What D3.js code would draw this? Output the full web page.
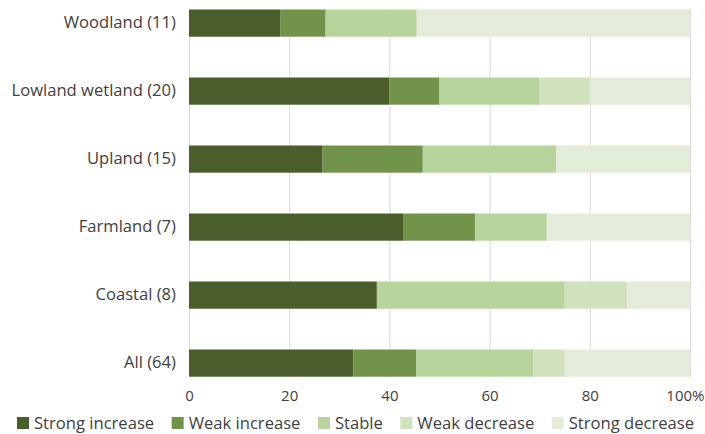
<!DOCTYPE html>
<html>
<head>
<meta charset="utf-8">
<script src="https://cdn.jsdelivr.net/npm/d3@7/dist/d3.min.js"></script>
<style>
  html, body { margin: 0; padding: 0; background: #fff; }
  svg { display: block; font-family: "Open Sans", "Noto Sans", sans-serif; }
</style>
</head>
<body>
<svg id="chart" width="705" height="434"></svg>
<script>
// Habitat groups with number of species in each
const categories = ["Woodland (11)", "Lowland wetland (20)", "Upland (15)", "Farmland (7)", "Coastal (8)", "All (64)"];

// Trend classes, from strongest increase to strongest decrease
const trendNames = ["Strong increase", "Weak increase", "Stable", "Weak decrease", "Strong decrease"];

// Species counts per trend class, one entry per habitat group
const strongIncrease = [2, 8, 4, 3, 3, 21];
const weakIncrease   = [1, 2, 3, 1, 0, 8];
const stable         = [2, 4, 4, 1, 3, 15];
const weakDecrease   = [0, 2, 0, 0, 1, 4];
const strongDecrease = [6, 4, 4, 2, 1, 16];

const tickValues = [0, 20, 40, 60, 80, 100];
const tickLabels = ["0", "20", "40", "60", "80", "100%"];

const colors = ["#4a5e2c", "#72934a", "#b6d49b", "#cfe1bd", "#e3ecd8"];

const seriesCounts = [strongIncrease, weakIncrease, stable, weakDecrease, strongDecrease];

// Build rows of percentage shares
const rows = categories.map((c, i) => {
  const total = d3.sum(seriesCounts, s => s[i]);
  const row = { category: c };
  trendNames.forEach((t, k) => { row[t] = seriesCounts[k][i] / total * 100; });
  return row;
});

const stacked = d3.stack().keys(trendNames)(rows);

const svg = d3.select("#chart");
const plotLeft = 189;
const plotRight = 690;
const textColor = "#404040";

const x = d3.scaleLinear().domain([0, 100]).range([plotLeft, plotRight]);
const y = d3.scaleBand().domain(categories).range([9.5, 376.7]).paddingInner(0.6).paddingOuter(0);

const color = d3.scaleOrdinal().domain(trendNames).range(colors);

// Vertical gridlines
svg.append("g")
  .selectAll("line")
  .data(tickValues)
  .join("line")
  .attr("x1", d => x(d) + 0.5)
  .attr("x2", d => x(d) + 0.5)
  .attr("y1", y.range()[0])
  .attr("y2", y.range()[1])
  .attr("stroke", "#d9d9d9")
  .attr("stroke-width", 1);

// Stacked bars
svg.append("g")
  .selectAll("g")
  .data(stacked)
  .join("g")
  .attr("fill", d => color(d.key))
  .selectAll("rect")
  .data(d => d)
  .join("rect")
  .attr("x", d => x(d[0]))
  .attr("width", d => x(d[1]) - x(d[0]))
  .attr("y", d => y(d.data.category))
  .attr("height", y.bandwidth());

// Category axis
const yAxis = svg.append("g")
  .attr("transform", `translate(${plotLeft},0)`)
  .call(d3.axisLeft(y).tickSize(0).tickPadding(13));
yAxis.select(".domain").remove();
yAxis.selectAll("text")
  .attr("font-size", 16.6)
  .attr("font-family", "Open Sans, Noto Sans, sans-serif")
  .attr("fill", textColor);

// Percentage axis
const xAxis = svg.append("g")
  .attr("transform", `translate(0,${y.range()[1]})`)
  .call(d3.axisBottom(x).tickValues(tickValues).tickFormat((d, i) => tickLabels[i]).tickSize(0).tickPadding(14));
xAxis.select(".domain").remove();
xAxis.selectAll("text")
  .attr("font-size", 15)
  .attr("font-family", "Open Sans, Noto Sans, sans-serif")
  .attr("fill", textColor);
// keep the last label inside the frame
xAxis.selectAll(".tick").filter(d => d === 100)
  .select("text").attr("text-anchor", "end").attr("x", 704 - plotRight);

// Legend: items laid out left to right, spread across the width
const legend = svg.append("g").attr("transform", "translate(0,423)");
const item = legend.selectAll("g")
  .data(trendNames)
  .join("g");
item.append("rect")
  .attr("x", 0).attr("y", -6)
  .attr("width", 12).attr("height", 12)
  .attr("fill", d => color(d));
item.append("text")
  .attr("x", 17).attr("y", 0)
  .attr("dy", "0.35em")
  .attr("font-size", 16.6)
  .attr("fill", textColor)
  .text(d => d);

const legendLeft = 17, legendRight = 694;
const widths = [];
item.select("text").each(function () { widths.push(17 + this.getComputedTextLength()); });
const gap = (legendRight - legendLeft - d3.sum(widths)) / (widths.length - 1);
let cursor = legendLeft;
item.attr("transform", (d, i) => {
  const t = `translate(${cursor},0)`;
  cursor += widths[i] + gap;
  return t;
});
</script>
</body>
</html>
